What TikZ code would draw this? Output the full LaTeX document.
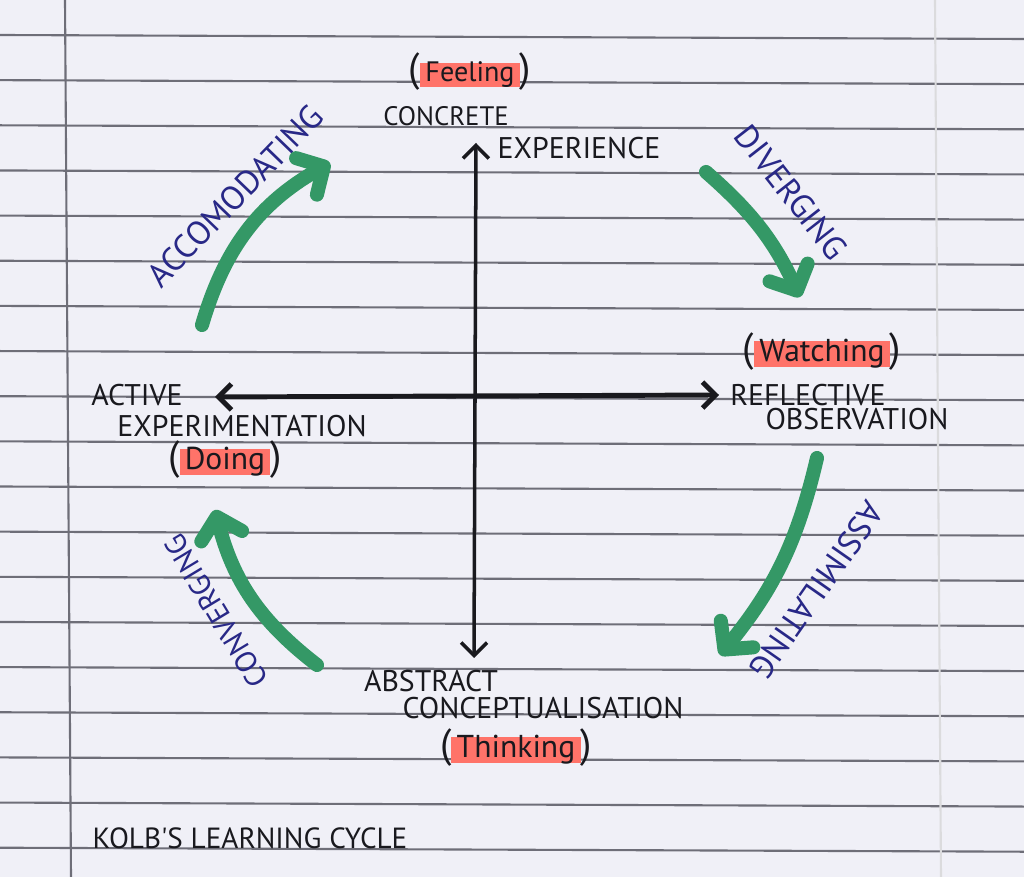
\documentclass[tikz,border=0pt]{standalone}
\usepackage{fontspec}
\usepackage{xcolor}
\usepackage{tikz}
\usetikzlibrary{arrows.meta}
\newfontfamily\hand{PT Sans}
\definecolor{paper}{RGB}{240,240,247}
\definecolor{rulegray}{RGB}{110,110,120}
\definecolor{marker}{RGB}{52,152,102}
\definecolor{hlpink}{RGB}{255,115,105}
\definecolor{pen}{RGB}{40,40,135}
\definecolor{ink}{RGB}{25,25,30}
\newcommand{\paren}[1]{{\fontsize{11.5}{11.5}\selectfont#1}}
\newcommand{\hilite}[1]{\paren{(}{\fboxsep=1.5pt\colorbox{hlpink}{\vphantom{x}\smash{#1}}}\paren{)}}

\begin{document}
\begin{tikzpicture}[
  lab/.style={font=\hand\fontsize{8.5}{10}\selectfont, text=ink, inner sep=0pt},
  stage/.style={font=\hand\fontsize{9.5}{10}\selectfont, text=pen, inner sep=0pt},
  mode/.style={font=\hand\fontsize{9}{10}\selectfont, text=ink, inner sep=0pt},
  axisline/.style={ink, line width=1pt, {Straight Barb[length=1.3mm,width=2.6mm]}-{Straight Barb[length=1.3mm,width=2.6mm]}},
  stagearrow/.style={marker, line width=4pt, line cap=round, -{Straight Barb[length=2mm,width=4.2mm,round]}},
  ruled/.style={rulegray, line width=0.6pt}
]
  \fill[paper] (0,0) rectangle (10.24,8.77);
  \useasboundingbox (0,0) rectangle (10.24,8.77);
  \foreach \k in {0,...,18}
    \draw[ruled] (0,{8.42-0.4515*\k}) -- (10.24,{8.38-0.4515*\k});
  \draw[ruled] (0.65,8.77) -- (0.71,0);
  \draw[line width=0.6pt, rulegray!25] (9.35,8.77) -- (9.41,0);

  \coordinate (top) at (4.76,7.34);
  \coordinate (bottom) at (4.74,2.19);
  \coordinate (left) at (2.15,4.80);
  \coordinate (right) at (7.19,4.82);
  \draw[axisline] (bottom) -- (top);
  \draw[axisline, line width=1.4pt] (left) -- (right);

  \node[mode, font=\hand\fontsize{8}{10}\selectfont] (feeling) at (4.70,8.05) {\hilite{Feeling}};
  \node[lab, font=\hand\fontsize{7.6}{10}\selectfont] (concrete) at (4.46,7.61) {CONCRETE};
  \node[lab] (experience) at (5.79,7.29) {EXPERIENCE};

  \node[mode] (watching) at (8.22,5.25) {\hilite{Watching}};
  \node[lab] (reflective) at (8.08,4.82) {REFLECTIVE};
  \node[lab] (observation) at (8.57,4.58) {OBSERVATION};

  \node[lab] (active) at (1.37,4.82) {ACTIVE};
  \node[lab] (experimentation) at (2.42,4.51) {EXPERIMENTATION};
  \node[mode] (doing) at (2.25,4.17) {\hilite{Doing}};

  \node[lab] (abstract) at (4.31,1.96) {ABSTRACT};
  \node[lab] (conceptualisation) at (5.43,1.69) {CONCEPTUALISATION};
  \node[mode] (thinking) at (5.16,1.29) {\hilite{Thinking}};

  \node[stage, rotate=46] (accomodating) at (2.35,6.81) {ACCOMODATING};
  \node[stage, rotate=-52] (diverging) at (7.91,6.85) {DIVERGING};
  \node[stage, rotate=-125] (assimilating) at (8.17,2.87) {ASSIMILATING};
  \node[stage, font=\hand\fontsize{8.5}{10}\selectfont, rotate=121] (converging) at (2.16,2.66) {CONVERGING};

  \coordinate (acctail) at (2.02,5.52);
  \coordinate (acchead) at (3.30,7.14);
  \coordinate (divtail) at (7.06,7.05);
  \coordinate (divhead) at (8.00,5.80);
  \coordinate (asstail) at (8.17,4.19);
  \coordinate (asshead) at (7.20,2.22);
  \coordinate (contail) at (3.17,2.12);
  \coordinate (conhead) at (2.15,3.67);
  \draw[stagearrow] (acctail) to[bend left=22] (acchead);
  \draw[stagearrow] (divtail) to[bend left=12] (divhead);
  \draw[stagearrow] (asstail) to[bend left=13] (asshead);
  \draw[stagearrow] (contail) to[bend left=19] (conhead);

  \node[lab, font=\hand\fontsize{8.3}{9}\selectfont] (title) at (2.50,0.39) {KOLB'S LEARNING CYCLE};
\end{tikzpicture}
\end{document}
